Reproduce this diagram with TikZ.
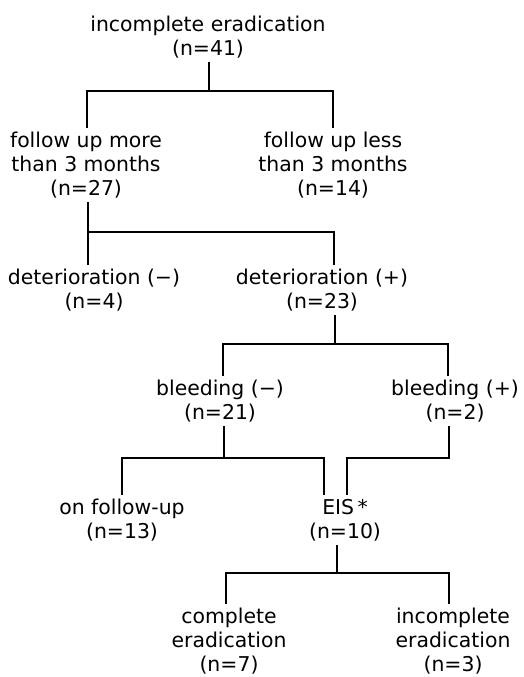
\documentclass[tikz,border=0pt]{standalone}
\usepackage{fontspec}
\setmainfont{DejaVu Sans}
\begin{document}
\begin{tikzpicture}[x=1pt,y=-1pt,
  lbl/.style={font=\fontsize{20.4}{23.8}\selectfont, align=center, inner xsep=0pt, inner ysep=4pt, anchor=base},
  conn/.style={line width=1.1pt}]
\useasboundingbox (0,0) rectangle (523,677);
% anchor=base is the baseline of the last line
\node[lbl] (root) at (208,55.5) {incomplete eradication\\(n=41)};
\node[lbl] (fmore) at (86,195.5) {follow up more\\than 3 months\\(n=27)};
\node[lbl] (fless) at (333,195.5) {follow up less\\than 3 months\\(n=14)};
\node[lbl] (detm) at (94,308.5) {deterioration (−)\\(n=4)};
\node[lbl] (detp) at (322,308.5) {deterioration (+)\\(n=23)};
\node[lbl] (bleedm) at (220,419.5) {bleeding (−)\\(n=21)};
\node[lbl] (bleedp) at (455,419.5) {bleeding (+)\\(n=2)};
\node[lbl] (onfu) at (122,538.5) {on follow-up\\(n=13)};
\node[lbl] (eis) at (345,538.5) {EIS\,*\\(n=10)};
\node[lbl] (comp) at (229,671.5) {complete\\eradication\\(n=7)};
\node[lbl] (incomp) at (453,671.5) {incomplete\\eradication\\(n=3)};
\coordinate (b1) at (209,91); \coordinate (b1l) at (87,91); \coordinate (b1r) at (333,91);
\coordinate (b2) at (88,232); \coordinate (b2r) at (334,232);
\coordinate (b3) at (335,344); \coordinate (b3l) at (223,344); \coordinate (b3r) at (448,344);
\coordinate (b4) at (224,458); \coordinate (b4l) at (122,458); \coordinate (b4r) at (324,458);
\coordinate (b5) at (449,458); \coordinate (b5l) at (347,458);
\coordinate (b6) at (337,573); \coordinate (b6l) at (226,573); \coordinate (b6r) at (449,573);
\draw[conn] (b1 |- root.south) -- (b1);
\draw[conn] (b1l |- fmore.north) -- (b1l) -- (b1r) -- (b1r |- fless.north);
\draw[conn] (b2 |- fmore.south) -- (b2);
\draw[conn] (b2 |- detm.north) -- (b2) -- (b2r) -- (b2r |- detp.north);
\draw[conn] (b3 |- detp.south) -- (b3);
\draw[conn] (b3l |- bleedm.north) -- (b3l) -- (b3r) -- (b3r |- bleedp.north);
\draw[conn] (b4 |- bleedm.south) -- (b4);
\draw[conn] (b4l |- onfu.north) -- (b4l) -- (b4r) -- (b4r |- eis.north);
\draw[conn] (b5 |- bleedp.south) -- (b5) -- (b5l) -- (b5l |- eis.north);
\draw[conn] (b6 |- eis.south) -- (b6);
\draw[conn] (b6l |- comp.north) -- (b6l) -- (b6r) -- (b6r |- incomp.north);
\end{tikzpicture}
\end{document}
